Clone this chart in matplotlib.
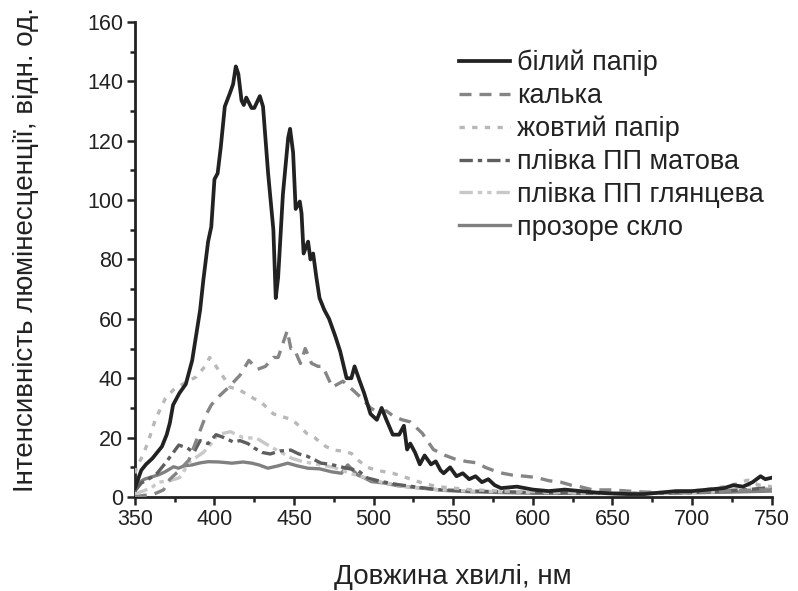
import matplotlib
matplotlib.use('Agg')
import matplotlib.pyplot as plt
from matplotlib.ticker import MultipleLocator

plt.rcParams['font.family'] = ['Liberation Sans', 'DejaVu Sans']

# ---------- дані ----------
labels = ['білий папір', 'калька', 'жовтий папір', 'плівка ПП матова',
          'плівка ПП глянцева', 'прозоре скло']

x_white = [350, 354, 357, 361, 367, 370, 372, 374, 376, 378, 382, 386, 391, 393, 396, 398,
           400, 402, 404, 406.5, 409.7, 411.7, 413.4, 415, 417, 418.4, 420, 423.3, 425, 428.5,
           430.5, 433.7, 437, 438.5, 440, 443, 446.3, 447.5, 449.4, 451, 453.6, 454.7, 456,
           458.8, 460.3, 462, 464, 466, 469, 472, 476, 479, 483, 486, 488, 491, 494, 498, 502,
           505, 508, 512, 516, 519, 521, 523, 526, 529, 532, 536, 539, 542, 544, 548, 552, 556,
           560, 564, 568, 572, 576, 580, 590, 600, 610, 620, 630, 640, 650, 660, 670, 680, 690,
           700, 710, 720, 726, 732, 738, 743, 746, 750]
y_white = [3, 9, 11, 13, 17, 21, 25, 31, 33, 35, 38, 46, 63, 73, 86, 91,
           107, 109, 118, 131.5, 136, 139, 145, 142.5, 133.5, 132, 134.5, 131, 131, 135,
           131.5, 109, 90, 67, 74, 102, 121, 124, 116, 97, 99.5, 95.5, 82,
           86, 80, 82, 74, 67, 63, 60, 54, 49, 40, 40, 44, 39.4, 35, 28, 26,
           30, 26, 21, 21, 24, 16, 18, 15, 11, 14, 11, 12, 9, 8, 10, 7, 8,
           6, 7, 5, 6, 4, 3, 3.5, 2.5, 2, 2.5, 2, 1.5, 1.2, 1, 1, 1.5, 2,
           2, 2.5, 3, 4, 3.5, 5, 7, 6, 6.5]

x_tracing = [350, 355, 362, 368, 372, 378, 384, 390, 395, 398, 403, 409, 416, 421.6, 427, 432,
             437, 440, 445.7, 448, 450, 454, 457, 461, 465, 468, 474, 480.7, 487, 493, 498,
             502.6, 508, 513, 518, 523, 530.5, 537.5, 545, 551, 558, 565, 570, 575, 581, 587,
             595, 602, 610, 617.6, 624, 629.5, 637.7, 650, 665, 680, 700, 720, 740, 750]
y_tracing = [0, 0.5, 1, 2.4, 6, 9, 12.5, 21, 28, 31, 34, 37, 41, 46, 43, 44,
             47, 47, 56, 50, 50, 45, 50, 45, 44, 44, 37, 39, 36, 33, 30,
             28.6, 29, 27, 26, 25.3, 21.5, 16, 14, 12.8, 12, 11.5, 10, 9, 8, 7.4,
             7, 6.6, 5.5, 5, 4, 3.5, 2.4, 2.4, 1.8, 1.5, 1.5, 2, 2.4, 2.4]

x_yellow = [350, 352, 355, 358.6, 362.8, 369, 374, 380, 388.7, 394, 397, 401, 405.5, 409.7,
            416, 422, 430, 437, 443, 449, 455, 458, 463, 466, 470, 475, 480, 486, 490, 496,
            502, 507, 512, 518, 525, 532, 540, 550, 560, 580, 600, 620, 650, 680, 700, 715,
            725, 735, 742, 750]
y_yellow = [8, 11, 14, 19, 26, 33, 36, 38, 40.5, 44, 47, 44, 40.5, 37,
            36, 34, 31.6, 28, 27, 26, 23, 21.4, 20, 18.6, 17, 15.8, 15.5, 14.7, 12.5, 10,
            9, 8.5, 8, 7, 5.7, 4.5, 3.5, 3, 2.5, 2, 1.8, 1.5, 1.2, 1.5, 2, 3,
            4, 5.7, 4, 3.5]

x_matte = [350, 354, 360, 364, 370, 377.6, 383, 387, 391, 396, 401, 406, 412, 416, 421, 425,
           430, 435, 441, 448, 453, 458, 463, 467, 473, 479, 485, 490, 496, 505, 515, 525,
           540, 560, 580, 600, 620, 650, 680, 700, 720, 735, 745, 750]
y_matte = [2, 4.7, 6.5, 8, 12, 17.5, 16.5, 15, 19, 18, 21, 20, 18.5, 19, 18, 16.5,
           15, 14.5, 15.5, 15.8, 14.5, 13.8, 12.5, 11.4, 11, 10.2, 9.5, 9, 6.4, 5.2, 4.2, 3.5,
           2.5, 2, 1.8, 1.5, 1.4, 1.2, 1.3, 1.5, 2, 2.5, 3, 3]

x_gloss = [350, 355, 360, 365, 372, 378, 384.7, 393, 398, 402, 410, 418, 426.5, 435, 442,
           448.7, 455, 465, 475, 485, 495, 505, 520, 540, 560, 580, 600, 630, 660, 690, 710,
           725, 735, 745, 750]
y_gloss = [1, 2, 3, 5, 5.5, 6.5, 12, 15, 18, 21, 22, 20, 19.8, 17, 15,
           13, 12, 11, 10, 8, 6.5, 5, 3.5, 2.5, 2, 1.8, 1.6, 1.4, 1.2, 1.2, 1.5,
           2.5, 4, 3, 2.5]

x_glass = [350, 352, 356, 360.7, 365, 369, 374.3, 377.4, 381, 385.8, 391, 396, 403, 411, 418,
           423.5, 428, 433.5, 440, 446, 452, 458.7, 466, 473.5, 479.8, 483.7, 487, 490, 494,
           498.6, 507, 515, 530, 545, 560, 580, 600, 630, 660, 690, 720, 750]
y_glass = [2, 4.7, 6, 6.8, 7.5, 8.5, 10.2, 9.7, 10.5, 10.8, 11.5, 11.9, 11.8, 11.4, 11.8,
           11.4, 10.8, 9.7, 10.5, 11.4, 10.5, 9.7, 9.5, 8.5, 8, 10.8, 9, 7.4, 6.5,
           5.2, 4.7, 3.8, 3, 2.2, 1.8, 1.5, 1.3, 1.2, 1.2, 1.4, 1.6, 2]

# ---------- графік ----------
fig = plt.figure(figsize=(7.98, 5.91), dpi=100)
ax = fig.add_axes([0.169, 0.159, 0.798, 0.804])

series = [
    (x_white, y_white, '#222222', '-', None),
    (x_tracing, y_tracing, '#858585', '--', (3.6, 2.4)),
    (x_yellow, y_yellow, '#b8b8b8', ':', (1.6, 2.2)),
    (x_matte, y_matte, '#5e5e5e', '-.', (4, 1.5, 1.3, 1.5)),
    (x_gloss, y_gloss, '#c8c8c8', '-.', (4, 1.5, 1.3, 1.5, 1.3, 1.5)),
    (x_glass, y_glass, '#808080', '-', None),
]

n = len(series)
for i, (xs, ys, col, ls, dashes) in enumerate(series):
    lw = 2.7 if i == 0 else 2.4
    line, = ax.plot(xs, ys, color=col, lw=lw, linestyle=ls, label=labels[i],
                    zorder=n - i + 2, solid_joinstyle='round')
    if dashes is not None:
        line.set_dashes(dashes)

ax.set_xlim(350, 750)
ax.set_ylim(0, 160)
ax.xaxis.set_major_locator(MultipleLocator(50))
ax.xaxis.set_minor_locator(MultipleLocator(25))
ax.yaxis.set_major_locator(MultipleLocator(20))
ax.yaxis.set_minor_locator(MultipleLocator(10))

for side in ['top', 'right']:
    ax.spines[side].set_visible(False)
for side in ['left', 'bottom']:
    ax.spines[side].set_linewidth(2.0)
    ax.spines[side].set_color('#222222')

ax.tick_params(which='major', direction='out', length=5.5, width=1.8, color='#222222',
               labelsize=15.5, labelcolor='#222222', pad=3)
ax.tick_params(which='minor', direction='out', length=3.5, width=1.8, color='#222222')

ax.set_xlabel('Довжина хвилі, нм', fontsize=20, color='#222222')
ax.set_ylabel('Інтенсивність люмінесценції, відн. од.', fontsize=20, color='#222222')
ax.xaxis.set_label_coords(0.5, -0.14)
ax.yaxis.set_label_coords(-0.15, 0.52)

leg = ax.legend(loc='upper left', bbox_to_anchor=(0.561, 0.934),
                bbox_transform=fig.transFigure, frameon=False, fontsize=19.5,
                handlelength=1.9, handletextpad=0.26, labelspacing=0.25, borderaxespad=0)
for t in leg.get_texts():
    t.set_color('#222222')

plt.savefig('out.png', dpi=100)
